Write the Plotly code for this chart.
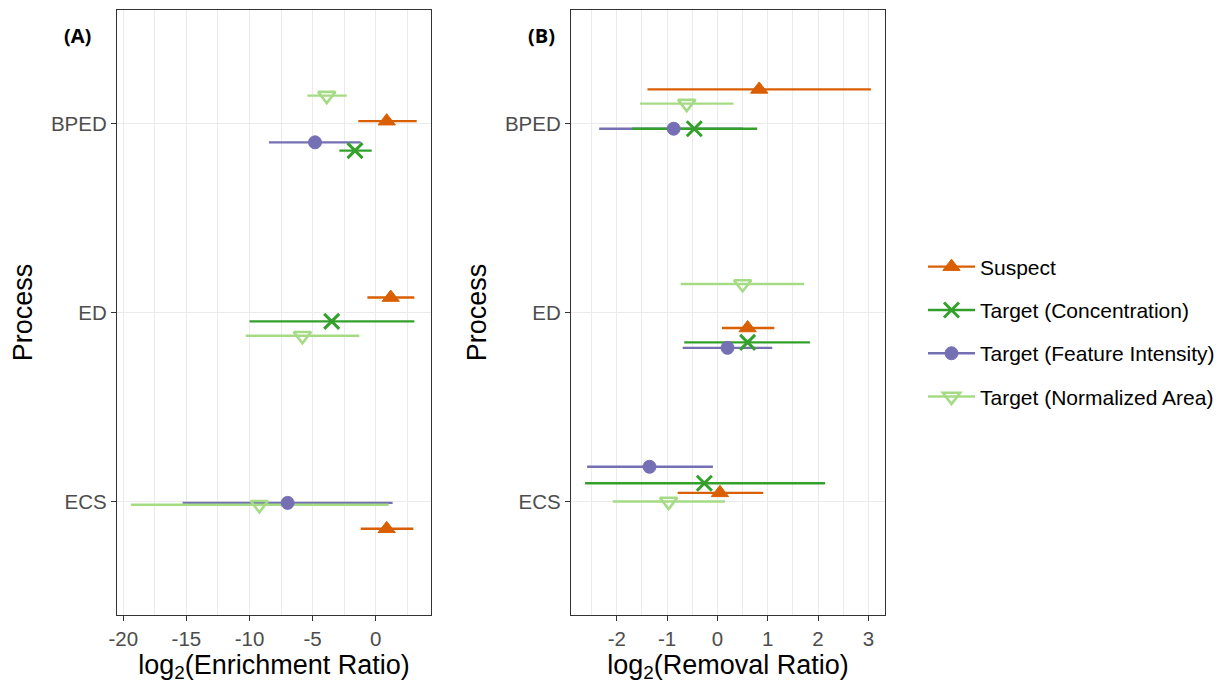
import plotly.graph_objects as go

# ---------------- data ----------------
processes = ["ECS", "ED", "BPED"]          # bottom -> top (category index 1,2,3)
series = ["Suspect", "Target (Concentration)", "Target (Feature Intensity)", "Target (Normalized Area)"]

# Panel A: log2(Enrichment Ratio)
A_suspect_proc = ["BPED", "ED", "ECS"]
A_suspect_val = [0.87, 1.19, 0.87]
A_suspect_lo = [-1.38, -0.66, -1.19]
A_suspect_hi = [3.25, 3.06, 2.98]
A_suspect_jit = [0.012, 0.079, -0.144]

A_conc_proc = ["BPED", "ED"]
A_conc_val = [-1.64, -3.49]
A_conc_lo = [-2.88, -10.0]
A_conc_hi = [-0.32, 3.06]
A_conc_jit = [-0.144, -0.047]

A_fi_proc = ["BPED", "ECS"]
A_fi_val = [-4.81, -6.98]
A_fi_lo = [-8.46, -15.3]
A_fi_hi = [-1.19, 1.34]
A_fi_jit = [-0.10, -0.007]

A_na_proc = ["BPED", "ED", "ECS"]
A_na_val = [-3.88, -5.81, -9.22]
A_na_lo = [-5.42, -10.3, -19.4]
A_na_hi = [-2.30, -1.3, 1.03]
A_na_jit = [0.147, -0.123, -0.017]

# Panel B: log2(Removal Ratio)
B_suspect_proc = ["BPED", "ED", "ECS"]
B_suspect_val = [0.83, 0.60, 0.05]
B_suspect_lo = [-1.39, 0.09, -0.79]
B_suspect_hi = [3.05, 1.13, 0.91]
B_suspect_jit = [0.18, -0.082, 0.046]

B_conc_proc = ["BPED", "ED", "ECS"]
B_conc_val = [-0.46, 0.60, -0.26]
B_conc_lo = [-1.70, -0.66, -2.63]
B_conc_hi = [0.79, 1.84, 2.14]
B_conc_jit = [-0.028, -0.158, 0.097]

B_fi_proc = ["BPED", "ED", "ECS"]
B_fi_val = [-0.87, 0.20, -1.35]
B_fi_lo = [-2.35, -0.69, -2.59]
B_fi_hi = [0.50, 1.09, -0.09]
B_fi_jit = [-0.028, -0.187, 0.184]

B_na_proc = ["BPED", "ED", "ECS"]
B_na_val = [-0.61, 0.50, -0.97]
B_na_lo = [-1.54, -0.73, -2.08]
B_na_hi = [0.32, 1.72, 0.15]
B_na_jit = [0.105, 0.151, 0.0]

A_ticks = [-20, -15, -10, -5, 0]
B_ticks = [-2, -1, 0, 1, 2, 3]

# ---------------- styles ----------------
colors = {
    "Suspect": "#D95F02",
    "Target (Concentration)": "#33A02C",
    "Target (Feature Intensity)": "#7570B3",
    "Target (Normalized Area)": "#A6DB86",
}
markers = {
    "Suspect": dict(symbol="triangle-up", size=15, lw=1),
    "Target (Concentration)": dict(symbol="x-thin", size=15, lw=3),
    "Target (Feature Intensity)": dict(symbol="circle", size=13, lw=1),
    "Target (Normalized Area)": dict(symbol="triangle-down-open", size=15, lw=2.6),
}

FONT = "Liberation Sans, Arial, sans-serif"
GRID = "#EBEBEB"
FRAME = "#333333"

panels = {
    "A": {
        "Suspect": (A_suspect_proc, A_suspect_val, A_suspect_lo, A_suspect_hi, A_suspect_jit),
        "Target (Concentration)": (A_conc_proc, A_conc_val, A_conc_lo, A_conc_hi, A_conc_jit),
        "Target (Feature Intensity)": (A_fi_proc, A_fi_val, A_fi_lo, A_fi_hi, A_fi_jit),
        "Target (Normalized Area)": (A_na_proc, A_na_val, A_na_lo, A_na_hi, A_na_jit),
    },
    "B": {
        "Suspect": (B_suspect_proc, B_suspect_val, B_suspect_lo, B_suspect_hi, B_suspect_jit),
        "Target (Concentration)": (B_conc_proc, B_conc_val, B_conc_lo, B_conc_hi, B_conc_jit),
        "Target (Feature Intensity)": (B_fi_proc, B_fi_val, B_fi_lo, B_fi_hi, B_fi_jit),
        "Target (Normalized Area)": (B_na_proc, B_na_val, B_na_lo, B_na_hi, B_na_jit),
    },
}
axes_map = {"A": ("x", "y"), "B": ("x2", "y2")}

fig = go.Figure()

line_order = ["Target (Feature Intensity)", "Target (Normalized Area)", "Suspect", "Target (Concentration)"]
for p, data in panels.items():
    xa, ya = axes_map[p]
    # range lines first
    for s in line_order:
        proc, val, lo, hi, jit = data[s]
        xs, ys = [], []
        for pr, l, h, j in zip(proc, lo, hi, jit):
            yv = processes.index(pr) + 1 + j
            xs += [l, h, None]
            ys += [yv, yv, None]
        fig.add_trace(go.Scatter(x=xs, y=ys, mode="lines", xaxis=xa, yaxis=ya,
                                 line=dict(color=colors[s], width=2.4),
                                 showlegend=False, hoverinfo="skip"))
    # points on top
    for s in line_order:
        proc, val, lo, hi, jit = data[s]
        ys = [processes.index(pr) + 1 + j for pr, j in zip(proc, jit)]
        m = markers[s]
        fig.add_trace(go.Scatter(x=val, y=ys, mode="markers", xaxis=xa, yaxis=ya,
                                 marker=dict(symbol=m["symbol"], size=m["size"], color=colors[s],
                                             line=dict(color=colors[s], width=m["lw"])),
                                 showlegend=False))

# legend-only traces
for i, s in enumerate(series):
    m = markers[s]
    fig.add_trace(go.Scatter(x=[None], y=[None], mode="lines+markers", name=s,
                             legendgroup=s,
                             line=dict(color=colors[s], width=2.4),
                             marker=dict(symbol=m["symbol"], size=m["size"], color=colors[s],
                                         line=dict(color=colors[s], width=m["lw"]))))

W, H = 1224, 685
yd = [1 - 615 / H, 1 - 10 / H]

common_x = dict(showline=True, mirror=True, linecolor=FRAME, linewidth=1.3,
                ticks="outside", ticklen=5, tickcolor=FRAME, tickwidth=1.3,
                showgrid=True, gridcolor=GRID, gridwidth=1.3, zeroline=False, automargin=False,
                tickfont=dict(family=FONT, size=20.5, color="#4D4D4D"),
                title_font=dict(family=FONT, size=27, color="black"), title_standoff=4)
common_y = dict(showline=True, mirror=True, linecolor=FRAME, linewidth=1.3,
                ticks="outside", ticklen=5, tickcolor=FRAME, tickwidth=1.3,
                showgrid=True, gridcolor=GRID, gridwidth=1.3, zeroline=False, automargin=False,
                range=[0.4, 3.6], tickvals=[1, 2, 3], ticktext=processes,
                tickfont=dict(family=FONT, size=20.5, color="#4D4D4D"),
                title=dict(text="Process", font=dict(family=FONT, size=27, color="black"), standoff=10))

fig.update_layout(
    width=W, height=H, margin=dict(l=0, r=0, t=0, b=0),
    plot_bgcolor="white", paper_bgcolor="white",
    xaxis=dict(domain=[117 / W, 431 / W], range=[-20.5, 4.38], tickvals=A_ticks,
               ticktext=[str(v) for v in A_ticks],
               minor=dict(dtick=2.5, tick0=0, showgrid=True, gridcolor=GRID, gridwidth=1.1, ticks=""),
               title_text="log<sub>2</sub>(Enrichment Ratio)", anchor="y", **common_x),
    yaxis=dict(domain=yd, anchor="x", **common_y),
    xaxis2=dict(domain=[571 / W, 885 / W], range=[-2.91, 3.33], tickvals=B_ticks,
                ticktext=[str(v) for v in B_ticks],
                minor=dict(dtick=0.5, tick0=0, showgrid=True, gridcolor=GRID, gridwidth=1.1, ticks=""),
                title_text="log<sub>2</sub>(Removal Ratio)", anchor="y2", **common_x),
    yaxis2=dict(domain=yd, anchor="x2", **common_y),
    legend=dict(x=923 / W, y=1 - 332 / H, xanchor="left", yanchor="middle",
                font=dict(family=FONT, size=21, color="black"),
                tracegroupgap=13, itemwidth=47, bgcolor="rgba(0,0,0,0)"),
    annotations=[
        dict(text="<b>(A)</b>", x=77 / W, y=1 - 35 / H, xref="paper", yref="paper",
             xanchor="center", yanchor="middle",
             showarrow=False, font=dict(family="Open Sans, " + FONT, size=20, color="black")),
        dict(text="<b>(B)</b>", x=541 / W, y=1 - 35 / H, xref="paper", yref="paper",
             xanchor="center", yanchor="middle",
             showarrow=False, font=dict(family="Open Sans, " + FONT, size=20, color="black")),
    ],
)

fig.write_html("out.html", config={"displayModeBar": False},
               post_script="document.body.style.margin='0';document.body.style.padding='0';")
